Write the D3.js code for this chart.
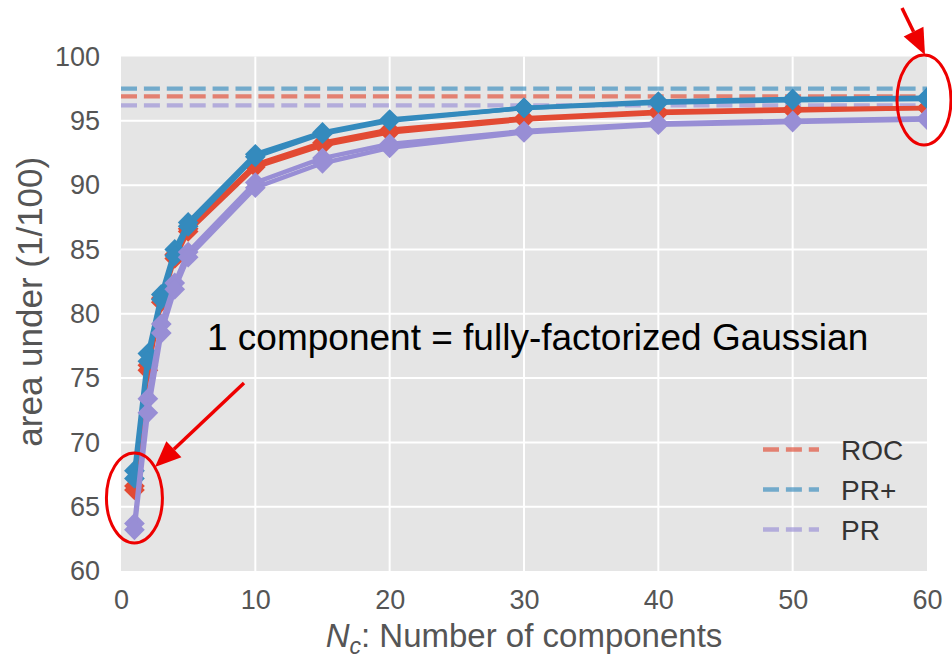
<!DOCTYPE html>
<html>
<head>
<meta charset="utf-8">
<script src="https://cdn.jsdelivr.net/npm/d3@7"></script>
<style>
  html, body { margin: 0; padding: 0; background: #fff; }
  svg { display: block; font-family: "Liberation Sans", Arial, sans-serif; }
</style>
</head>
<body>
<svg id="chart" width="952" height="658"></svg>
<script>
// Number of mixture components on the x axis
const components = [1, 2, 3, 4, 5, 10, 15, 20, 30, 40, 50, 60];

// Area under the curve (x100), two runs per measure
const rocRunA    = [66.6, 76.0, 81.2, 84.6, 86.6, 91.6, 93.3, 94.3, 95.2, 95.7, 95.9, 96.0];
const rocRunB    = [66.3, 75.6, 80.9, 84.3, 86.4, 91.4, 93.1, 94.1, 95.1, 95.6, 95.8, 96.0];
const prPlusRunA = [67.8, 76.9, 81.5, 85.0, 87.1, 92.4, 94.1, 95.1, 96.0, 96.5, 96.7, 96.8];
const prPlusRunB = [67.2, 76.3, 81.1, 84.5, 86.8, 92.2, 94.0, 95.0, 96.0, 96.4, 96.6, 96.7];
const prRunA     = [63.7, 73.4, 79.2, 82.4, 84.8, 90.2, 92.1, 93.2, 94.2, 94.8, 95.0, 95.2];
const prRunB     = [63.2, 72.3, 78.5, 81.9, 84.4, 89.8, 91.7, 92.9, 94.1, 94.7, 94.9, 95.1];

// Reference levels drawn as dashed lines
const referenceNames  = ["ROC", "PR+", "PR"];
const referenceLevels = [96.9, 97.5, 96.2];

// Axis ticks
const xTicks = [0, 10, 20, 30, 40, 50, 60];
const yTicks = [60, 65, 70, 75, 80, 85, 90, 95, 100];

const colors = { "ROC": "#E24A33", "PR+": "#348ABD", "PR": "#988ED5" };

const svg = d3.select("#chart");
const panel = { left: 121, right: 927, top: 56.5, bottom: 571 };

const x = d3.scaleLinear().domain([0, 60]).range([panel.left, panel.right]);
const y = d3.scaleLinear().domain([60, 100]).range([panel.bottom, panel.top]);

// Panel background
svg.append("rect")
  .attr("x", panel.left).attr("y", panel.top)
  .attr("width", panel.right - panel.left).attr("height", panel.bottom - panel.top)
  .attr("fill", "#E5E5E5");

svg.append("clipPath").attr("id", "panel-clip")
  .append("rect")
  .attr("x", panel.left).attr("y", panel.top)
  .attr("width", panel.right - panel.left).attr("height", panel.bottom - panel.top);

// Grid
const grid = svg.append("g").attr("stroke", "#fff").attr("stroke-width", 2);
grid.selectAll("line.vx").data(xTicks.filter(t => t > 0 && t < 60)).join("line")
  .attr("x1", d => x(d)).attr("x2", d => x(d))
  .attr("y1", panel.top).attr("y2", panel.bottom);
grid.selectAll("line.hy").data(yTicks.filter(t => t > 60 && t < 100)).join("line")
  .attr("y1", d => y(d)).attr("y2", d => y(d))
  .attr("x1", panel.left).attr("x2", panel.right);

// Axes (labels only, no domain or tick marks)
const xAxis = svg.append("g")
  .attr("transform", `translate(0,${panel.bottom})`)
  .call(d3.axisBottom(x).tickValues(xTicks).tickSize(0).tickPadding(19));
const yAxis = svg.append("g")
  .attr("transform", `translate(${panel.left},0)`)
  .call(d3.axisLeft(y).tickValues(yTicks).tickSize(0).tickPadding(21));
[xAxis, yAxis].forEach(a => {
  a.select(".domain").remove();
  a.selectAll("text")
    .attr("fill", "#555")
    .style("font-size", "27px")
    .style("font-family", "'Liberation Sans', Arial, sans-serif");
});

// Axis titles
svg.append("text")
  .attr("transform", `translate(42,${(panel.top + panel.bottom) / 2 - 12}) rotate(-90)`)
  .attr("text-anchor", "middle")
  .attr("fill", "#555")
  .style("font-size", "35px")
  .text("area under (1/100)");

const xTitle = svg.append("text")
  .attr("x", (panel.left + panel.right) / 2)
  .attr("y", 647)
  .attr("text-anchor", "middle")
  .attr("fill", "#555")
  .style("font-size", "33px");
xTitle.append("tspan").style("font-style", "italic").text("N");
xTitle.append("tspan").style("font-style", "italic").style("font-size", "23px")
  .attr("dy", 7).text("c");
xTitle.append("tspan").attr("dy", -7).text(": Number of components");

// Plot layer clipped to the panel
const plot = svg.append("g").attr("clip-path", "url(#panel-clip)");

// Dashed reference levels
plot.selectAll("line.ref").data(referenceNames).join("line")
  .attr("x1", x(0)).attr("x2", x(60))
  .attr("y1", (d, i) => y(referenceLevels[i]))
  .attr("y2", (d, i) => y(referenceLevels[i]))
  .attr("stroke", d => colors[d])
  .attr("stroke-opacity", 0.65)
  .attr("stroke-width", 4.3)
  .attr("stroke-dasharray", "16,6.9");

// Curves with diamond markers
const series = [
  { name: "ROC", values: rocRunA },
  { name: "ROC", values: rocRunB },
  { name: "PR+", values: prPlusRunA },
  { name: "PR+", values: prPlusRunB },
  { name: "PR",  values: prRunA },
  { name: "PR",  values: prRunB }
];

const line = d3.line().x(d => x(d[0])).y(d => y(d[1]));
const diamond = d3.symbol().type(d3.symbolSquare).size(215);

series.forEach(s => {
  const pts = components.map((c, i) => [c, s.values[i]]);
  const g = plot.append("g");
  g.append("path")
    .attr("d", line(pts))
    .attr("fill", "none")
    .attr("stroke", colors[s.name])
    .attr("stroke-width", 4.5)
    .attr("stroke-linejoin", "round");
  g.selectAll("path.m").data(pts).join("path")
    .attr("class", "m")
    .attr("d", diamond)
    .attr("transform", d => `translate(${x(d[0])},${y(d[1])}) rotate(45)`)
    .attr("fill", colors[s.name]);
});

// Legend
const legend = svg.append("g");
referenceNames.forEach((name, i) => {
  const ly = 449.5 + i * 40;
  legend.append("line")
    .attr("x1", 763).attr("x2", 819)
    .attr("y1", ly).attr("y2", ly)
    .attr("stroke", colors[name])
    .attr("stroke-opacity", 0.65)
    .attr("stroke-width", 4.3)
    .attr("stroke-dasharray", "16,6.9");
  legend.append("text")
    .attr("x", 841).attr("y", ly + 10)
    .attr("fill", "#333")
    .style("font-size", "28px")
    .text(name);
});

// Annotation
svg.append("text")
  .attr("x", 207).attr("y", 350)
  .attr("fill", "#000")
  .style("font-size", "37px")
  .text("1 component = fully-factorized Gaussian");

// Red call-outs
const marks = svg.append("g").attr("stroke", "#EE0000").attr("fill", "none");
marks.append("ellipse")
  .attr("cx", x(1)).attr("cy", 498).attr("rx", 28).attr("ry", 45)
  .attr("stroke-width", 3);
marks.append("ellipse")
  .attr("cx", 924).attr("cy", 100).attr("rx", 27).attr("ry", 45)
  .attr("stroke-width", 3);

function arrow(x1, y1, x2, y2) {
  const ang = Math.atan2(y2 - y1, x2 - x1);
  const headLen = 26, headHalf = 11;
  const bx = x2 - headLen * Math.cos(ang), by = y2 - headLen * Math.sin(ang);
  marks.append("line")
    .attr("x1", x1).attr("y1", y1).attr("x2", bx).attr("y2", by)
    .attr("stroke-width", 3.5);
  const px = -Math.sin(ang) * headHalf, py = Math.cos(ang) * headHalf;
  marks.append("path")
    .attr("d", `M${x2},${y2}L${bx + px},${by + py}L${bx - px},${by - py}Z`)
    .attr("fill", "#EE0000").attr("stroke", "none");
}
arrow(244, 383, 155, 467);
arrow(902, 8, 925, 55);
</script>
</body>
</html>
